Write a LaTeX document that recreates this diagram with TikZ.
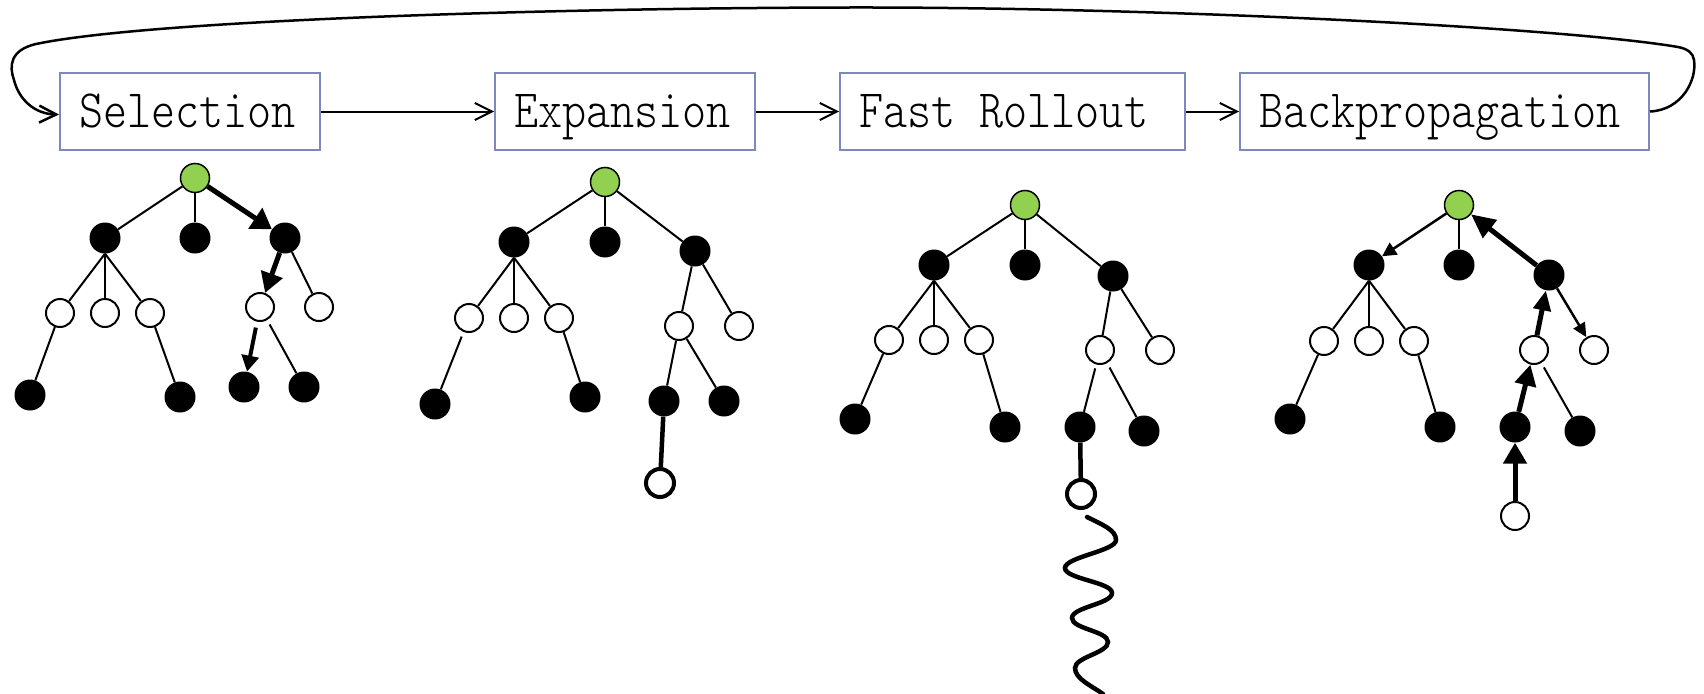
\documentclass[tikz,border=0pt]{standalone}
\usepackage{graphicx}
\usetikzlibrary{arrows.meta}
\definecolor{boxblue}{RGB}{125,137,189}
\definecolor{rootgreen}{RGB}{146,208,80}
\newcommand\stagelabel[1]{\scalebox{0.85}[1]{#1}}
\newcommand\monospace{\hspace*{0.525em}}
\tikzset{
  stage/.style={draw=boxblue, line width=2pt, fill=white, inner xsep=19pt,
    align=left, minimum height=77pt, text height=38pt, text depth=7pt,
    font=\fontsize{54}{60}\fontseries{l}\ttfamily\selectfont},
  flow/.style={line width=2pt, -{Straight Barb[length=17pt,width=17pt]}},
  loop/.style={line width=2.5pt, -{Straight Barb[length=17pt,width=17pt]}},
  bnode/.style={circle, fill=black, inner sep=0pt, minimum size=31pt},
  wnode/.style={circle, draw=black, fill=white, line width=2pt, inner sep=0pt, minimum size=28pt},
  gnode/.style={circle, draw=black, fill=rootgreen, line width=1.5pt, inner sep=0pt, minimum size=29pt},
  nnode/.style={wnode, line width=4pt},
  thin/.style={line width=2pt},
  heavy/.style={line width=5pt},
}
\begin{document}
\begin{tikzpicture}[x=1pt, y=-1pt]
\useasboundingbox (0,0) rectangle (1704,693);

% stage boxes
\node[stage, text width=222pt] (sel) at (190,111.5) {\stagelabel{Selection}};
\node[stage, text width=222pt] (exp) at (625,111.5) {\stagelabel{Expansion}};
\node[stage, text width=307pt] (ro)  at (1012.5,111.5) {\stagelabel{Fast\monospace Rollout}};
\node[stage, text width=371pt] (bp)  at (1444.5,111.5) {\stagelabel{Backpropagation}};

\draw[flow] (sel) -- (exp);
\draw[flow] (exp) -- (ro);
\draw[flow] (ro) -- (bp);
\draw[loop] (bp.east) .. controls (1682,110) and (1697,80) .. (1694,60)
  .. controls (1693,53) and (1688,49) .. (1678,47)
  .. controls (1560,27) and (1150,7) .. (850,7.5)
  .. controls (550,8) and (150,20) .. (36,44)
  .. controls (10,50) and (9,66) .. (14,80)
  .. controls (19,100) and (35,114) .. ([yshift=-3pt]sel.west);

% ---- selection tree
\node[gnode] (Ar) at (195,178) {};
\node[bnode] (Aa) at (105,238) {};
\node[bnode] (Ab) at (195,238) {};
\node[bnode] (Ac) at (285,238) {};
\node[wnode] (Aw1) at (60,313) {};
\node[wnode] (Aw2) at (105,313) {};
\node[wnode] (Aw3) at (150,313) {};
\node[wnode] (Aw4) at (260,307) {};
\node[wnode] (Aw5) at (319,307) {};
\node[bnode] (Al1) at (30,395) {};
\node[bnode] (Al2) at (180,397) {};
\node[bnode] (Al3) at (244,387) {};
\node[bnode] (Al4) at (304,387) {};
\draw[thin] (Ar) -- (Aa);
\draw[thin] (Ar) -- (Ab);
\draw[heavy, -{Triangle[length=20pt,width=24pt]}] (Ar) -- (Ac);
\draw[thin] (Aa.south) -- (Aw1);
\draw[thin] (Aa.south) -- (Aw2);
\draw[thin] (Aa.south) -- (Aw3);
\draw[thin] (Aw1) -- (Al1);
\draw[thin] (Aw3) -- (Al2);
\draw[heavy, -{Triangle[length=20pt,width=22pt]}] (Ac) -- (Aw4);
\draw[thin] (Ac) -- (Aw5);
\draw[line width=4pt, shorten <=6pt, -{Triangle[length=16pt,width=17pt]}] (Aw4) -- (Al3);
\draw[thin, shorten <=5pt] (Aw4) -- (Al4);

% ---- expansion tree
\node[gnode] (Br) at (605,182) {};
\node[bnode] (Ba) at (514,242) {};
\node[bnode] (Bb) at (605,242) {};
\node[bnode] (Bc) at (695,251) {};
\node[wnode] (Bw1) at (469,318) {};
\node[wnode] (Bw2) at (514,318) {};
\node[wnode] (Bw3) at (559,318) {};
\node[wnode] (Bw4) at (679,326) {};
\node[wnode] (Bw5) at (739,326) {};
\node[bnode] (Bl1) at (435,404) {};
\node[bnode] (Bl2) at (585,397) {};
\node[bnode] (Bl3) at (664,401) {};
\node[bnode] (Bl4) at (724,401) {};
\node[nnode] (Bn) at (660,483) {};
\draw[thin] (Br) -- (Ba);
\draw[thin] (Br) -- (Bb);
\draw[thin] (Br) -- (Bc);
\draw[thin] (Ba.south) -- (Bw1);
\draw[thin] (Ba.south) -- (Bw2);
\draw[thin] (Ba.south) -- (Bw3);
\draw[thin, shorten <=5pt] (Bw1) -- (Bl1);
\draw[thin] (Bw3) -- (Bl2);
\draw[thin] (Bc) -- (Bw4);
\draw[thin] (Bc) -- (Bw5);
\draw[thin] (Bw4) -- (Bl3);
\draw[thin] (Bw4) -- (Bl4);
\draw[line width=4.5pt] (Bl3) -- (Bn);

% ---- rollout tree
\node[gnode] (Cr) at (1025,205) {};
\node[bnode] (Ca) at (934,265) {};
\node[bnode] (Cb) at (1025,265) {};
\node[bnode] (Cc) at (1113,276) {};
\node[wnode] (Cw1) at (889,340) {};
\node[wnode] (Cw2) at (934,340) {};
\node[wnode] (Cw3) at (979,340) {};
\node[wnode] (Cw4) at (1100,350) {};
\node[wnode] (Cw5) at (1160,350) {};
\node[bnode] (Cl1) at (855,419) {};
\node[bnode] (Cl2) at (1005,427) {};
\node[bnode] (Cl3) at (1080,427) {};
\node[bnode] (Cl4) at (1144,431) {};
\node[nnode] (Cn) at (1081,494) {};
\draw[thin] (Cr) -- (Ca);
\draw[thin] (Cr) -- (Cb);
\draw[thin] (Cr) -- (Cc);
\draw[thin] (Ca.south) -- (Cw1);
\draw[thin] (Ca.south) -- (Cw2);
\draw[thin] (Ca.south) -- (Cw3);
\draw[thin] (Cw1) -- (Cl1);
\draw[thin] (Cw3) -- (Cl2);
\draw[thin] (Cc) -- (Cw4);
\draw[thin] (Cc) -- (Cw5);
\draw[thin, shorten <=4pt] (Cw4) -- (Cl3);
\draw[thin, shorten <=5pt] (Cw4) -- (Cl4);
\draw[line width=4.5pt] (Cl3) -- (Cn);
% random playout squiggle
\coordinate (sq0) at (1087,517);
\coordinate (sq1) at (1103,694);
\draw[line width=4.5pt, line cap=round] (sq0)
  .. controls (1103,525) and (1116,530) .. (1116,540)
  .. controls (1116,551) and (1065,557) .. (1065,568)
  .. controls (1065,579) and (1112,582) .. (1112,593)
  .. controls (1112,604) and (1072,607) .. (1072,618)
  .. controls (1072,629) and (1108,631) .. (1108,642)
  .. controls (1108,653) and (1075,657) .. (1075,668)
  .. controls (1075,679) and (1092,686) .. (sq1);

% ---- backpropagation tree
\node[gnode] (Dr) at (1459,205) {};
\node[bnode] (Da) at (1369,265) {};
\node[bnode] (Db) at (1459,265) {};
\node[bnode] (Dc) at (1549,275) {};
\node[wnode] (Dw1) at (1324,341) {};
\node[wnode] (Dw2) at (1369,341) {};
\node[wnode] (Dw3) at (1414,341) {};
\node[wnode] (Dw4) at (1534,350) {};
\node[wnode] (Dw5) at (1594,350) {};
\node[bnode] (Dl1) at (1290,419) {};
\node[bnode] (Dl2) at (1440,427) {};
\node[bnode] (Dl3) at (1515,427) {};
\node[bnode] (Dl4) at (1580,431) {};
\node[wnode] (Dn) at (1515,516) {};
\draw[line width=2.5pt, -{Triangle[length=14pt,width=14pt]}] (Dr) -- (Da);
\draw[thin] (Dr) -- (Db);
\draw[heavy, -{Triangle[length=24pt,width=22pt]}] (Dc) -- (Dr);
\draw[thin] (Da.south) -- (Dw1);
\draw[thin] (Da.south) -- (Dw2);
\draw[thin] (Da.south) -- (Dw3);
\draw[thin] (Dw1) -- (Dl1);
\draw[thin] (Dw3) -- (Dl2);
\draw[line width=2.5pt, -{Triangle[length=14pt,width=13pt]}] (Dc) -- (Dw5);
\draw[heavy, -{Triangle[length=20pt,width=17pt]}] (Dw4) -- (Dc);
\draw[heavy, -{Triangle[length=21pt,width=21pt]}] (Dl3) -- (Dw4);
\draw[heavy, -{Triangle[length=21pt,width=23pt]}] (Dn) -- (Dl3);
\draw[thin, shorten <=5pt] (Dw4) -- (Dl4);
\end{tikzpicture}
\end{document}
